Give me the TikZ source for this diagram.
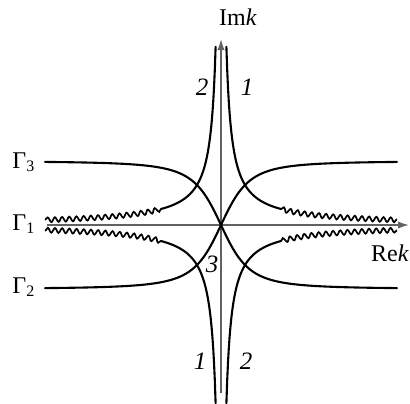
\documentclass[tikz,border=0pt]{standalone}
\usepackage{fontspec}
\setmainfont{Liberation Serif}
\usetikzlibrary{arrows.meta,decorations.pathmorphing}

\begin{document}
\begin{tikzpicture}[x=0.5pt, y=0.5pt,
    axis/.style={draw=black!62, line width=0.75pt, -{Latex[length=5.5pt,width=3.6pt]}},
    curve/.style={line width=1.05pt, line cap=round},
    wavy/.style={line width=0.85pt, decorate, decoration={snake, amplitude=1.2pt, segment length=3.6pt}},
    lbl/.style={font=\fontsize{12}{14}\selectfont, inner sep=0pt},
    num/.style={font=\fontsize{12.5}{14}\selectfont\itshape, inner sep=0pt}]
  \useasboundingbox (-221,-178) rectangle (189,225);
  % axes
  \coordinate (O) at (0,0);
  \coordinate (xa) at (-174,0);
  \coordinate (xb) at (188,0);
  \coordinate (ya) at (0,-168);
  \coordinate (yb) at (0,186);
  \draw[axis] (xa) -- (xb);
  \draw[axis] (ya) -- (yb);
  \node[lbl, anchor=south] (imk) at (17,199) {Im\textit{k}};
  \node[lbl] (rek) at (169,-28) {Re\textit{k}};
  % curves 1 and 2, solid near the axes, wavy far out
  \foreach \sx/\sy in {1/1,-1/-1,-1/1,1/-1}{
    \draw[curve] plot[domain=0.174:1.94, samples=70] ({\sx*31*\x}, {\sy*31/\x});
    \draw[wavy] plot[domain=1.94:5.68, samples=40] ({\sx*31*\x}, {\sy*31/\x});
  }
  % Gamma_3 and Gamma_2
  \foreach \s in {1,-1}
    \draw[curve] plot[domain=-176:176, samples=121] (\x, {\s*64*abs(\x/30)/sqrt((\x/30)^2+1)});
  \node[lbl, anchor=base west] (g3) at (-209,57) {Γ\textsubscript{3}};
  \node[lbl, anchor=base west] (g1) at (-209,-5) {Γ\textsubscript{1}};
  \node[lbl, anchor=base west] (g2) at (-209,-68) {Γ\textsubscript{2}};
  \node[num] (n2t) at (-19,138) {2};
  \node[num] (n1t) at (26,138) {1};
  \node[num] (n1b) at (-21,-136) {1};
  \node[num] (n2b) at (25,-136) {2};
  \node[num] (n3) at (-9,-39) {3};
\end{tikzpicture}
\end{document}
